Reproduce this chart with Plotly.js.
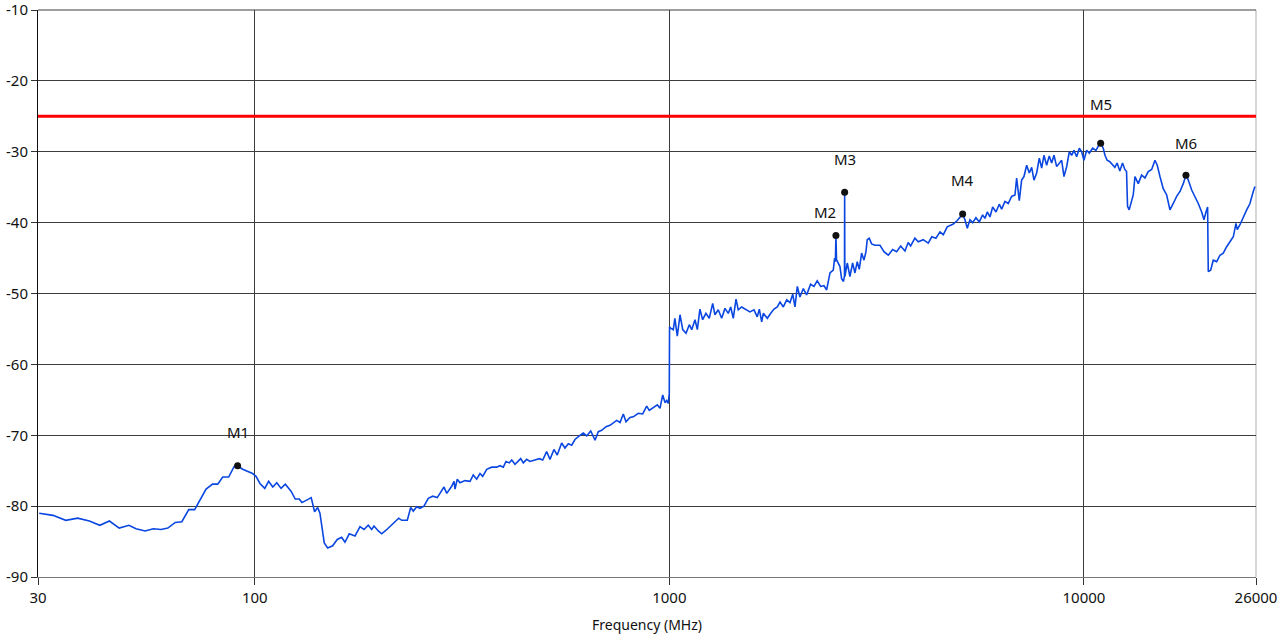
<!DOCTYPE html>
<html>
<head>
<meta charset="utf-8">
<script src="https://cdn.plot.ly/plotly-3.0.1.min.js"></script>
<style>html,body{margin:0;padding:0;background:#fff;}#chart{width:1286px;height:639px;}</style>
</head>
<body>
<div id="chart"></div>
<script>
// Frequency (MHz) and level (dB) of the measured trace
const freq = [30.2,32.6,35.0,37.4,39.9,42.3,44.6,47.1,49.7,51.7,54.4,56.9,59.4,61.7,64.3,66.7,69.3,71.6,76.3,79.1,81.4,83.7,86.5,89.2,90.9,93.5,98.8,100.7,102.9,105.7,108.0,110.5,113.0,115.7,118.5,122.3,125.2,128.0,130.0,136.8,139.4,141.8,143.6,147.1,149.9,154.1,
158.1,162.0,165.0,169.0,174.5,179.4,183.4,187.8,191.4,193.9,198.6,202.4,207.3,211.9,217.9,222.4,226.2,233.3,237.7,241.2,245.8,250.3,255.9,262.1,268.6,275.5,279.7,286.0,290.4,298.5,302.4,304.1,307.9,312.6,321.4,330.5,336.5,342.9,349.3,354.6,362.6,372.8,383.3,390.3,397.6,403.6,411.1,416.6,424.3,432.2,438.0,444.3,452.8,461.2,474.2,485.7,494.9,505.8,515.2,526.8,536.5,549.8,560.0,570.4,581.3,592.0,606.4,620.0,631.8,646.1,661.7,673.9,686.7,703.4,719.1,732.5,746.4,760.3,774.3,786.0,803.5,818.3,841.4,862.3,881.7,894.4,914.6,935.1,949.2,963.7,976.0,985.1,994.0,999.5,1001,
1007,1022,1031,1045,1061,1077,1097,1117,1132,1153,1168,1185,1203,1225,1248,1272,1288,1312,1337,1362,1387,1406,1426,1448,1466,1494,1530,1564,1600,1629,1648,1670,1685,1723,1756,1788,1821,1849,1883,1919,1954,1984,2009,2035,2065,2104,2143,2191,2232,2273,2317,2360,2395,2440,2485,2504,2515,2522,2530,2579,2603,2630,2645,2647,2650,2686,2726,2767,2803,2839,2871,2909,2947,2980,3001,3035,3075,3132,3221,3293,3373,3456,3533,3613,3700,3768,3819,3911,3984,4096,4211,4295,4395,4495,4579,4679,
4840,4948,5022,5098,5164,5231,5310,5390,5489,5591,5697,5770,5845,5933,6023,6135,6247,6331,6448,6567,6692,6817,6881,6982,7074,7166,7275,7381,7480,7576,7690,7803,7907,8008,8128,8247,8358,8466,8594,8718,8835,8950,9085,9218,9340,9461,9604,9744,9874,10000,10151,10299,10495,10690,10826,10972,11132,11238,11373,11545,11719,11871,12022,12204,12388,12549,12668,12739,12854,13032,13149,13274,13521,13775,14031,14292,14565,14835,15025,15252,15535,15831,16122,16422,16735,17046,17359,17620,17849,18190,18524,18868,19228,19473,19690,19874,19943,20211,20506,20897,21286,21677,22090,22501,22920,23266,23432,23783,24226,24688,25141,25380,25608,25850];
const level = [-81.0,-81.3,-82.0,-81.7,-82.1,-82.7,-82.1,-83.1,-82.7,-83.2,-83.5,-83.2,-83.3,-83.1,-82.3,-82.2,-80.5,-80.5,-77.6,-76.9,-76.9,-75.9,-75.9,-74.4,-74.3,-74.8,-75.4,-75.8,-76.8,-77.5,-76.5,-77.3,-76.7,-77.5,-76.9,-77.9,-79.0,-79.0,-79.5,-78.8,-80.8,-80.2,-81.0,-85.2,-85.9,-85.6,
-84.7,-84.4,-85.1,-83.9,-84.2,-82.9,-83.3,-82.7,-83.3,-82.8,-83.5,-83.9,-83.4,-82.9,-82.3,-81.7,-82.0,-82.0,-80.2,-80.7,-80.1,-80.3,-80.0,-78.9,-78.6,-78.8,-78.2,-77.3,-78.2,-77.2,-76.5,-77.6,-76.2,-76.7,-76.4,-76.5,-75.6,-76.2,-75.4,-75.8,-74.8,-74.5,-74.5,-74.3,-74.5,-73.7,-73.9,-73.5,-74.1,-73.7,-73.3,-73.9,-73.4,-73.7,-73.5,-73.3,-73.5,-72.3,-73.4,-72.0,-72.8,-71.1,-71.8,-71.2,-71.4,-70.6,-70.1,-69.7,-70.1,-69.4,-70.7,-69.5,-69.3,-68.8,-68.6,-68.2,-67.9,-68.2,-67.0,-68.1,-67.5,-67.4,-66.9,-67.0,-65.9,-66.5,-66.1,-65.7,-66.2,-64.3,-65.4,-65.1,-65.5,-64.1,-54.7,
-54.9,-55.1,-53.5,-56.0,-53.0,-55.1,-55.6,-54.4,-55.1,-53.7,-55.1,-52.2,-53.7,-52.8,-53.5,-51.4,-53.0,-52.3,-53.5,-52.1,-52.8,-51.9,-53.5,-50.8,-52.3,-51.9,-52.3,-52.6,-52.3,-53.3,-52.2,-54.0,-52.8,-53.5,-52.8,-52.2,-51.9,-51.2,-51.9,-50.9,-51.3,-50.1,-51.9,-49.0,-50.5,-49.3,-50.2,-48.7,-49.0,-48.2,-49.0,-48.9,-49.5,-47.1,-46.7,-45.0,-45.5,-41.8,-45.2,-46.2,-47.9,-48.3,-47.5,-35.7,-47.6,-45.7,-47.6,-45.7,-47.1,-45.5,-46.6,-44.3,-45.3,-44.1,-42.4,-42.2,-43.0,-43.2,-43.2,-44.1,-44.6,-43.8,-44.1,-43.3,-44.0,-42.8,-43.3,-42.2,-42.7,-42.4,-42.9,-42.0,-42.2,-41.3,-41.7,-40.6,
-40.2,-39.7,-39.3,-38.8,-39.6,-40.8,-39.6,-40.0,-39.3,-39.9,-38.9,-39.4,-38.5,-39.2,-37.8,-38.5,-37.4,-38.1,-37.0,-37.3,-36.3,-36.1,-33.7,-36.9,-34.0,-33.5,-31.9,-33.0,-32.2,-34.0,-33.0,-30.9,-32.3,-30.5,-31.9,-30.6,-31.6,-30.5,-32.1,-31.6,-31.2,-33.5,-32.1,-30.0,-30.5,-29.8,-30.7,-29.5,-30.0,-31.2,-29.8,-30.2,-29.5,-29.8,-29.2,-28.8,-29.5,-30.5,-31.2,-31.4,-31.9,-32.2,-31.6,-32.7,-31.6,-32.5,-32.8,-37.7,-38.2,-37.0,-36.1,-33.5,-34.5,-33.3,-33.7,-32.8,-32.5,-31.2,-31.9,-33.5,-35.2,-36.1,-38.2,-37.3,-36.3,-35.6,-34.5,-33.3,-34.0,-35.4,-36.3,-37.3,-38.5,-39.6,-38.5,-37.8,-46.9,-46.7,-45.3,-45.5,-44.6,-44.3,-43.4,-42.7,-42.0,-40.1,-41.0,-40.3,-39.2,-38.2,-37.3,-36.3,-35.6,-34.9];

// Markers
const markerNames = ["M1","M2","M3","M4","M5","M6"];
const markerFreq = [90.9, 2522, 2647, 5098, 10972, 17620];
const markerLevel = [-74.3, -41.8, -35.7, -38.8, -28.8, -33.3];
const markerLabelDx = [0, -11, 0, 0, 0, 0];
const markerLabelDy = [34, 23, 33, 34, 39, 32];

// Limit line
const limitLevel = -25;
const xRange = [30, 26000];

// Axis ticks
const xTickVals = [30, 100, 1000, 10000, 26000];
const xTickText = ["30", "100", "1000", "10000", "26000"];
const yTickVals = [-90, -80, -70, -60, -50, -40, -30, -20, -10];
const yTickText = ["-90", "-80", "-70", "-60", "-50", "-40", "-30", "-20", "-10"];

const FONT = "Noto Sans, Open Sans, DejaVu Sans, sans-serif";

const traces = [
  {x: xRange, y: [limitLevel, limitLevel], mode: "lines", line: {color: "#ff0000", width: 3}, hoverinfo: "skip"},
  {x: freq, y: level, mode: "lines", line: {color: "#0a46e0", width: 1.6}},
  {x: markerFreq, y: markerLevel, mode: "markers", marker: {color: "#111", size: 7}}
];

const annotations = markerNames.map((n, i) => ({
  x: Math.log10(markerFreq[i]), y: markerLevel[i], xref: "x", yref: "y",
  text: n, showarrow: false, xshift: markerLabelDx[i], yshift: markerLabelDy[i],
  font: {family: FONT, size: 15, color: "#111"}
}));

const layout = {
  width: 1286, height: 639,
  margin: {l: 38, r: 30, t: 10, b: 62},
  paper_bgcolor: "#fff", plot_bgcolor: "#fff",
  showlegend: false,
  xaxis: {
    type: "log", range: [Math.log10(xRange[0]), Math.log10(xRange[1])],
    tickmode: "array", tickvals: xTickVals, ticktext: xTickText,
    showgrid: true, gridcolor: "#3c3c3c", gridwidth: 1,
    showline: true, linecolor: "#777", linewidth: 1,
    ticks: "outside", ticklen: 7, tickcolor: "#333",
    tickfont: {family: FONT, size: 15, color: "#111"},
    ticklabeloverflow: "allow",
    zeroline: false,
    title: {text: "Frequency (MHz)", font: {family: FONT, size: 14, color: "#111"}, standoff: 14}
  },
  yaxis: {
    range: [-90, -10], tickmode: "array", tickvals: yTickVals, ticktext: yTickText,
    showgrid: true, gridcolor: "#3c3c3c", gridwidth: 1,
    showline: true, linecolor: "#111", linewidth: 1,
    ticks: "outside", ticklen: 6, tickcolor: "#333",
    tickfont: {family: FONT, size: 15, color: "#111"},
    ticklabeloverflow: "allow",
    zeroline: false
  },
  shapes: [
    {type: "line", xref: "paper", yref: "paper", x0: 1, x1: 1, y0: 0, y1: 1, line: {color: "#c8c8c8", width: 1.5}, layer: "below"},
    {type: "line", xref: "paper", yref: "paper", x0: 0, x1: 1, y0: 1, y1: 1, line: {color: "#3c3c3c", width: 1}, layer: "below"}
  ],
  annotations: annotations
};

Plotly.newPlot("chart", traces, layout, {displayModeBar: false, staticPlot: true});
</script>
</body>
</html>
